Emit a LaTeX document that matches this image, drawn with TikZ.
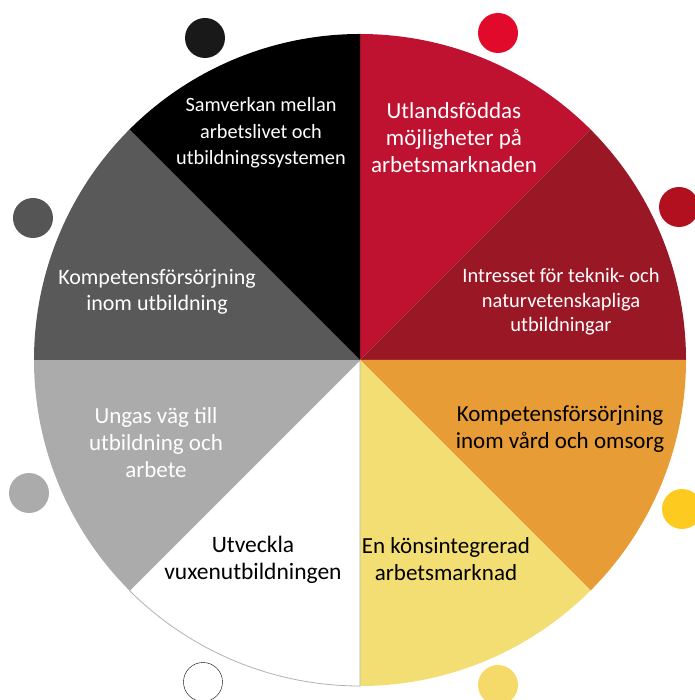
\documentclass[tikz,border=0pt]{standalone}
\usepackage{fontspec}
\setmainfont{Carlito}
\usepackage{tikz}
\usetikzlibrary{positioning}
\definecolor{sred}{RGB}{190,18,48}
\definecolor{sdarkred}{RGB}{154,24,38}
\definecolor{sorange}{RGB}{232,156,54}
\definecolor{syellow}{RGB}{243,222,116}
\definecolor{sgray}{RGB}{171,171,171}
\definecolor{sdarkgray}{RGB}{89,89,89}
\definecolor{dred}{RGB}{225,10,43}
\definecolor{ddarkred}{RGB}{179,16,31}
\definecolor{dyellow}{RGB}{253,202,31}
\definecolor{dlightyellow}{RGB}{245,218,106}
\definecolor{ddarkgray}{RGB}{85,85,85}
\tikzstyle{lw} = [text centered, align=center, text=white, font=\fontsize{23}{27}\selectfont]
\tikzstyle{lb} = [text centered, align=center, text=black, font=\fontsize{23}{27}\selectfont]
\tikzstyle{ls} = [text centered, align=center, text=white, font=\fontsize{20.5}{24.5}\selectfont]
\tikzstyle{dot} = [circle, minimum size=40pt, inner sep=0pt]
\newcommand{\R}{326pt}

\begin{document}
\begin{tikzpicture}[x=1pt,y=1pt]
    \useasboundingbox (-360,-340) rectangle (334,360);
    \fill[sred] (0,0) -- (90:\R) arc[start angle=90, end angle=45, radius=\R] -- cycle;
    \fill[sdarkred] (0,0) -- (45:\R) arc[start angle=45, end angle=0, radius=\R] -- cycle;
    \fill[sorange] (0,0) -- (0:\R) arc[start angle=0, end angle=-45, radius=\R] -- cycle;
    \fill[syellow] (0,0) -- (-45:\R) arc[start angle=-45, end angle=-90, radius=\R] -- cycle;
    \filldraw[fill=white, draw=black!30, line width=0.8pt] (0,0) -- (-90:\R) arc[start angle=-90, end angle=-135, radius=\R] -- cycle;
    \fill[sgray] (0,0) -- (-135:\R) arc[start angle=-135, end angle=-180, radius=\R] -- cycle;
    \fill[sdarkgray] (0,0) -- (180:\R) arc[start angle=180, end angle=135, radius=\R] -- cycle;
    \fill[black] (0,0) -- (135:\R) arc[start angle=135, end angle=90, radius=\R] -- cycle;
    \node (Samverkan) [lw, font=\fontsize{20.3}{26.5}\selectfont] at (-99,227) {Samverkan mellan\\arbetslivet och\\utbildningssystemen};
    \node (Utlandsfodda) [lw] at (94,222) {Utlandsföddas\\möjligheter på\\arbetsmarknaden};
    \node (Intresset) [ls] at (201,58) {Intresset för teknik- och\\naturvetenskapliga\\utbildningar};
    \node (KompVard) [lb] at (200,-69) {Kompetensförsörjning\\inom vård och omsorg};
    \node (Konsint) [lb] at (86,-199) {En könsintegrerad\\arbetsmarknad};
    \node (Vuxen) [lb, font=\fontsize{23.5}{27}\selectfont] at (-107,-200) {Utveckla\\vuxenutbildningen};
    \node (Ungas) [lw] at (-204,-83) {Ungas väg till\\utbildning och\\arbete};
    \node (KompUtb) [lw, font=\fontsize{22}{26}\selectfont] at (-203,68) {Kompetensförsörjning\\inom utbildning};
    \node (dotBlack) [dot, fill=black!90] at (-155,322) {};
    \node (dotRed) [dot, fill=dred] at (138,327) {};
    \node (dotDarkRed) [dot, fill=ddarkred] at (319,153) {};
    \node (dotYellow) [dot, fill=dyellow] at (322,-149) {};
    \node (dotLightYellow) [dot, fill=dlightyellow] at (138,-325) {};
    \node (dotWhite) [dot, draw=black, fill=white, minimum size=39pt] at (-157,-322) {};
    \node (dotGray) [dot, fill=sgray] at (-331,-133) {};
    \node (dotDarkGray) [dot, fill=ddarkgray] at (-327,142) {};
\end{tikzpicture}
\end{document}
